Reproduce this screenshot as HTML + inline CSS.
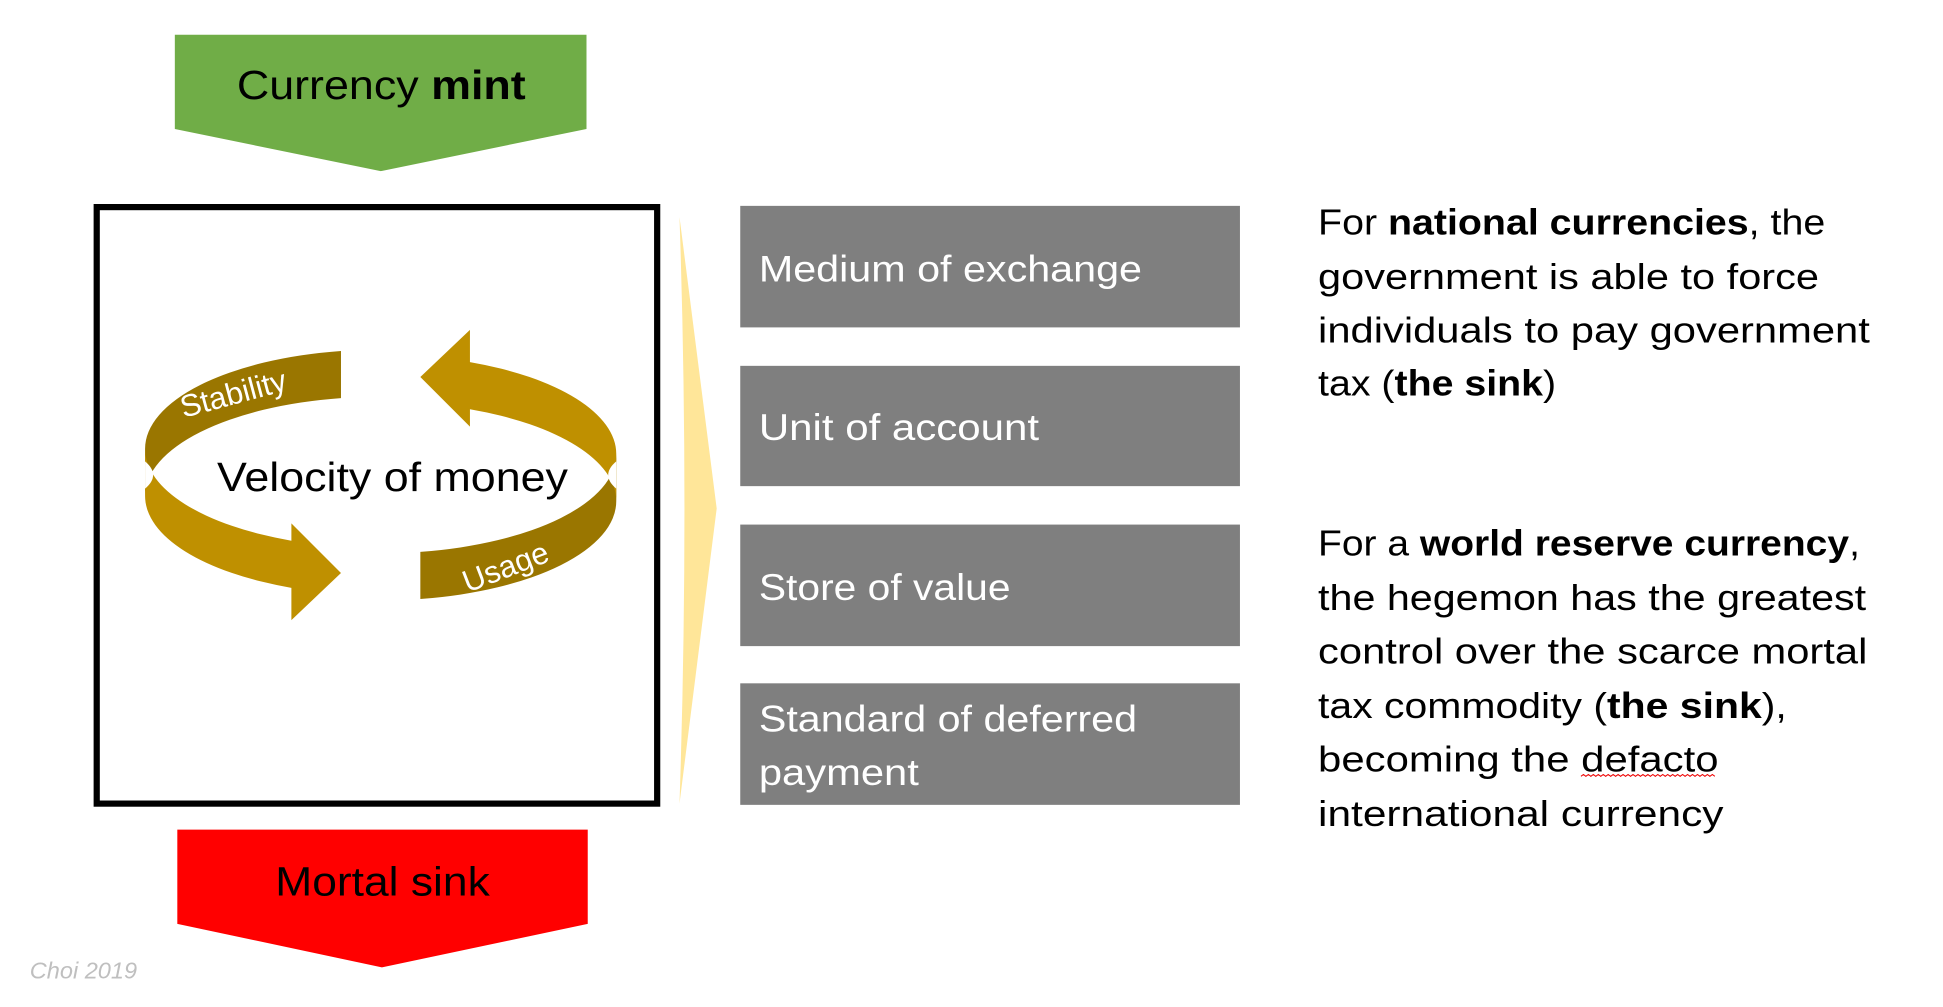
<!DOCTYPE html>
<html><head><meta charset="utf-8"><style>html,body{margin:0;padding:0;background:#fff;overflow:hidden}svg{display:block}</style></head>
<body>
<svg width="1943" height="1007" viewBox="0 0 1567 812" preserveAspectRatio="none" xmlns="http://www.w3.org/2000/svg">
<rect width="1600" height="820" fill="#fff"/>
<polygon points="141,28 473,28 473,104 307,138 141,104" fill="#70ad47"/>
<text x="191" y="80" font-family="Liberation Sans, Arial, sans-serif" font-size="33" fill="#000" textLength="233" lengthAdjust="spacingAndGlyphs">Currency <tspan font-weight="bold">mint</tspan></text>
<rect x="78" y="167" width="452" height="481" fill="none" stroke="#000" stroke-width="5"/>
<g>
<path d="M275,283 A190,80 0 0 0 117,362 L117,400 A190,80 0 0 1 275,321 Z" fill="#9a7600"/>
<path d="M117,362 A190,80 0 0 0 235,436 L235,422 L275,462 L235,500 L235,474 A190,80 0 0 1 117,400 Z" fill="#bf9000"/>
<g transform="rotate(180 307 383)">
<path d="M275,283 A190,80 0 0 0 117,362 L117,400 A190,80 0 0 1 275,321 Z" fill="#9a7600"/>
<path d="M117,362 A190,80 0 0 0 235,436 L235,422 L275,462 L235,500 L235,474 A190,80 0 0 1 117,400 Z" fill="#bf9000"/>
</g>
<path d="M117,372 Q130,383 117,394 Z" fill="#fff"/>
<path d="M497,372 Q484,383 497,394 Z" fill="#fff"/>
</g>
<text x="148" y="337" font-family="Liberation Sans, Arial, sans-serif" font-size="25" fill="#fff" transform="rotate(-15 148 337)">Stability</text>
<text x="377" y="478" font-family="Liberation Sans, Arial, sans-serif" font-size="25" fill="#fff" transform="rotate(-21 377 478)">Usage</text>
<text x="175" y="396" font-family="Liberation Sans, Arial, sans-serif" font-size="33" fill="#000" textLength="283" lengthAdjust="spacingAndGlyphs">Velocity of money</text>
<polygon points="143,669 474,669 474,745 308,780 143,745" fill="#ff0000"/>
<text x="222" y="722" font-family="Liberation Sans, Arial, sans-serif" font-size="33" fill="#000" textLength="173" lengthAdjust="spacingAndGlyphs">Mortal sink</text>
<text x="24" y="789" font-family="Liberation Sans, Arial, sans-serif" font-size="19" font-style="italic" fill="#bfbfbf">Choi 2019</text>
<path d="M548,175 L578,410 L548,648 Q556,410 548,175 Z" fill="#ffe699"/>
<g font-family="Liberation Sans, Arial, sans-serif" font-size="30" fill="#fff">
<rect x="597" y="166" width="403" height="98" fill="#7f7f7f"/>
<text x="612" y="227" textLength="309" lengthAdjust="spacingAndGlyphs">Medium of exchange</text>
<rect x="597" y="295" width="403" height="97" fill="#7f7f7f"/>
<text x="612" y="355" textLength="226" lengthAdjust="spacingAndGlyphs">Unit of account</text>
<rect x="597" y="423" width="403" height="98" fill="#7f7f7f"/>
<text x="612" y="484" textLength="203" lengthAdjust="spacingAndGlyphs">Store of value</text>
<rect x="597" y="551" width="403" height="98" fill="#7f7f7f"/>
<text x="612" y="590" textLength="305" lengthAdjust="spacingAndGlyphs">Standard of deferred</text>
<text x="612" y="633" textLength="129" lengthAdjust="spacingAndGlyphs">payment</text>
</g>
<g font-family="Liberation Sans, Arial, sans-serif" font-size="29" fill="#000">
<text x="1063" y="189" textLength="409" lengthAdjust="spacingAndGlyphs">For <tspan font-weight="bold">national currencies</tspan>, the</text>
<text x="1063" y="233" textLength="404" lengthAdjust="spacingAndGlyphs">government is able to force</text>
<text x="1063" y="276" textLength="445" lengthAdjust="spacingAndGlyphs">individuals to pay government</text>
<text x="1063" y="319" textLength="192" lengthAdjust="spacingAndGlyphs">tax (<tspan font-weight="bold">the sink</tspan>)</text>
<text x="1063" y="448" textLength="437" lengthAdjust="spacingAndGlyphs">For a <tspan font-weight="bold">world reserve currency</tspan>,</text>
<text x="1063" y="492" textLength="442" lengthAdjust="spacingAndGlyphs">the hegemon has the greatest</text>
<text x="1063" y="535" textLength="443" lengthAdjust="spacingAndGlyphs">control over the scarce mortal</text>
<text x="1063" y="579" textLength="378" lengthAdjust="spacingAndGlyphs">tax commodity (<tspan font-weight="bold">the sink</tspan>),</text>
<text x="1063" y="622" textLength="323" lengthAdjust="spacingAndGlyphs">becoming the defacto</text>
<text x="1063" y="666" textLength="327" lengthAdjust="spacingAndGlyphs">international currency</text>
</g>
<path d="M1275,626 l2,-1.5 l2,1.5 l2,-1.5 l2,1.5 l2,-1.5 l2,1.5 l2,-1.5 l2,1.5 l2,-1.5 l2,1.5 l2,-1.5 l2,1.5 l2,-1.5 l2,1.5 l2,-1.5 l2,1.5 l2,-1.5 l2,1.5 l2,-1.5 l2,1.5 l2,-1.5 l2,1.5 l2,-1.5 l2,1.5 l2,-1.5 l2,1.5 l2,-1.5 l2,1.5 l2,-1.5 l2,1.5 l2,-1.5 l2,1.5 l2,-1.5 l2,1.5 l2,-1.5 l2,1.5 l2,-1.5 l2,1.5 l2,-1.5 l2,1.5 l2,-1.5 l2,1.5 l2,-1.5 l2,1.5 l2,-1.5 l2,1.5 l2,-1.5 l2,1.5 l2,-1.5 l2,1.5 l2,-1.5 l2,1.5 l2,-1.5 l2,1.5" fill="none" stroke="#e00" stroke-width="0.8"/>
</svg>
</body></html>
